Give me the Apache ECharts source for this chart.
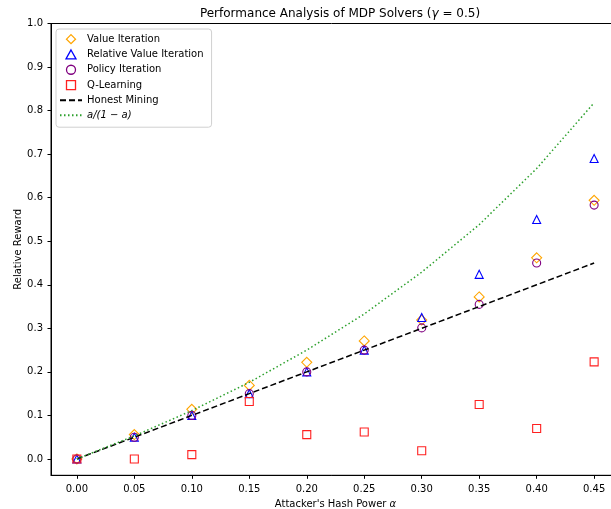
<!DOCTYPE html>
<html>
<head>
<meta charset="utf-8" />
<script type="text/javascript" src="https://cdn.jsdelivr.net/npm/echarts@6/dist/echarts.min.js"></script>
<title>MDP Solvers</title>
<style>
  html, body { margin: 0; padding: 0; background: #fff; }
  #main { width: 611px; height: 509px; }
</style>
</head>
<body>
<div id="main"></div>
<script type="text/javascript">
var alphas = [0.00, 0.05, 0.10, 0.15, 0.20, 0.25, 0.30, 0.35, 0.40, 0.45];
var valueIter = [0.000, 0.056, 0.114, 0.169, 0.222, 0.271, 0.319, 0.372, 0.462, 0.594];
var relValueIter = [0.000, 0.050, 0.100, 0.150, 0.200, 0.250, 0.325, 0.424, 0.550, 0.690];
var policyIter = [0.000, 0.050, 0.100, 0.150, 0.200, 0.250, 0.301, 0.355, 0.450, 0.583];
var qLearning = [0.000, 0.000, 0.010, 0.132, 0.056, 0.062, 0.019, 0.125, 0.070, 0.223];
var honest = [0.00, 0.05, 0.10, 0.15, 0.20, 0.25, 0.30, 0.35, 0.40, 0.45];
var bound = [0.000, 0.053, 0.111, 0.176, 0.250, 0.333, 0.429, 0.538, 0.667, 0.818];
var xTicks = [0.00, 0.05, 0.10, 0.15, 0.20, 0.25, 0.30, 0.35, 0.40, 0.45];
var yTicks = [0.0, 0.1, 0.2, 0.3, 0.4, 0.5, 0.6, 0.7, 0.8, 0.9, 1.0];

function pairs(ys) {
  var out = [];
  for (var i = 0; i < alphas.length; i++) out.push([alphas[i], ys[i]]);
  return out;
}

function marker(name, data, symbol, size, color) {
  return {
    name: name, type: 'scatter', data: pairs(data),
    symbol: symbol, symbolSize: size,
    itemStyle: { color: 'rgba(0,0,0,0)', borderColor: color, borderWidth: 1.1, opacity: 1 },
    emphasis: { disabled: true }
  };
}

// legend shapes (keep aspect, so they are not stretched to the line icon width)
var icons = {
  diamond: 'path://M5,0 L10,5 L5,10 L0,5 Z',
  triangle: 'path://M5,0 L10,9 L0,9 Z',
  circle: 'path://M5,0 A5,5 0 1,1 4.99,0 Z',
  square: 'path://M0,0 L10,0 L10,10 L0,10 Z'
};
var thin = { borderWidth: 1.3 };

var font = 'DejaVu Sans';
var myChart = echarts.init(document.getElementById('main'), null, { renderer: 'canvas' });

var option = {
  animation: false,
  backgroundColor: '#fff',
  title: {
    text: '{n|Performance Analysis of MDP Solvers (}{i|γ}{n| = 0.5)}',
    left: 335, top: 3, textAlign: 'center',
    textStyle: {
      rich: {
        n: { fontFamily: font, fontSize: 12, fontWeight: 'normal', color: '#000' },
        i: { fontFamily: font, fontSize: 12, fontWeight: 'normal', fontStyle: 'italic', color: '#000' }
      }
    }
  },
  grid: {
    left: 51, top: 23.5, width: 569, height: 451.8,
    outerBoundsMode: 'none',
    show: true, borderColor: '#000', borderWidth: 1, backgroundColor: 'transparent'
  },
  legend: {
    orient: 'vertical', left: 56, top: 29,
    padding: [5, 8, 7, 3],
    itemWidth: 22, itemHeight: 9, itemGap: 5, itemTextGap: 7,
    symbolKeepAspect: true,
    backgroundColor: '#fff', borderColor: '#d0d0d0', borderWidth: 1, borderRadius: 3,
    textStyle: { fontFamily: font, fontSize: 10, color: '#000' },
    data: [
      { name: 'Value Iteration', icon: icons.diamond, itemStyle: thin },
      { name: 'Relative Value Iteration', icon: icons.triangle, itemStyle: thin },
      { name: 'Policy Iteration', icon: icons.circle, itemStyle: thin },
      { name: 'Q-Learning', icon: icons.square, itemStyle: thin },
      { name: 'Honest Mining', itemStyle: { opacity: 0 } },
      { name: 'a/(1 − a)', itemStyle: { opacity: 0 }, textStyle: { fontStyle: 'italic' } }
    ]
  },
  xAxis: {
    type: 'value', min: -0.0225, max: 0.4725,
    name: "Attacker's Hash Power {i|α}", nameLocation: 'middle', nameGap: 24,
    nameMoveOverlap: false,
    nameTextStyle: {
      fontFamily: font, fontSize: 10, color: '#000',
      rich: { i: { fontFamily: font, fontSize: 10, fontStyle: 'italic', color: '#000' } }
    },
    splitLine: { show: false },
    axisLine: { onZero: false, lineStyle: { color: '#000', width: 1 } },
    axisTick: { show: true, length: 3.5, customValues: xTicks, lineStyle: { color: '#000' } },
    axisLabel: {
      customValues: xTicks, margin: 9, fontFamily: font, fontSize: 10, color: '#000',
      formatter: function (v) { return v.toFixed(2); }
    }
  },
  yAxis: {
    type: 'value', min: -0.0375, max: 1.0,
    name: 'Relative Reward', nameLocation: 'middle', nameGap: 28,
    nameMoveOverlap: false,
    nameTextStyle: { fontFamily: font, fontSize: 10, color: '#000' },
    splitLine: { show: false },
    axisLine: { show: true, onZero: false, lineStyle: { color: '#000', width: 1 } },
    axisTick: { show: true, length: 3.5, customValues: yTicks, lineStyle: { color: '#000' } },
    axisLabel: {
      customValues: yTicks, margin: 8, fontFamily: font, fontSize: 10, color: '#000',
      formatter: function (v) { return v.toFixed(1); }
    }
  },
  series: [
    marker('Value Iteration', valueIter, 'diamond', 10, '#ffa500'),
    marker('Relative Value Iteration', relValueIter, 'triangle', 8, '#0000ff'),
    marker('Policy Iteration', policyIter, 'circle', 8, '#800080'),
    marker('Q-Learning', qLearning, 'rect', 8, '#ff2020'),
    {
      name: 'Honest Mining', type: 'line', data: pairs(honest),
      symbol: 'none', color: '#000',
      lineStyle: { color: '#000', width: 1.5, type: [6, 3] }
    },
    {
      name: 'a/(1 − a)', type: 'line', data: pairs(bound),
      symbol: 'none', color: '#2ca02c',
      lineStyle: { color: '#2ca02c', width: 1.5, type: [1.5, 2.5] }
    }
  ]
};
myChart.setOption(option);
</script>
</body>
</html>
